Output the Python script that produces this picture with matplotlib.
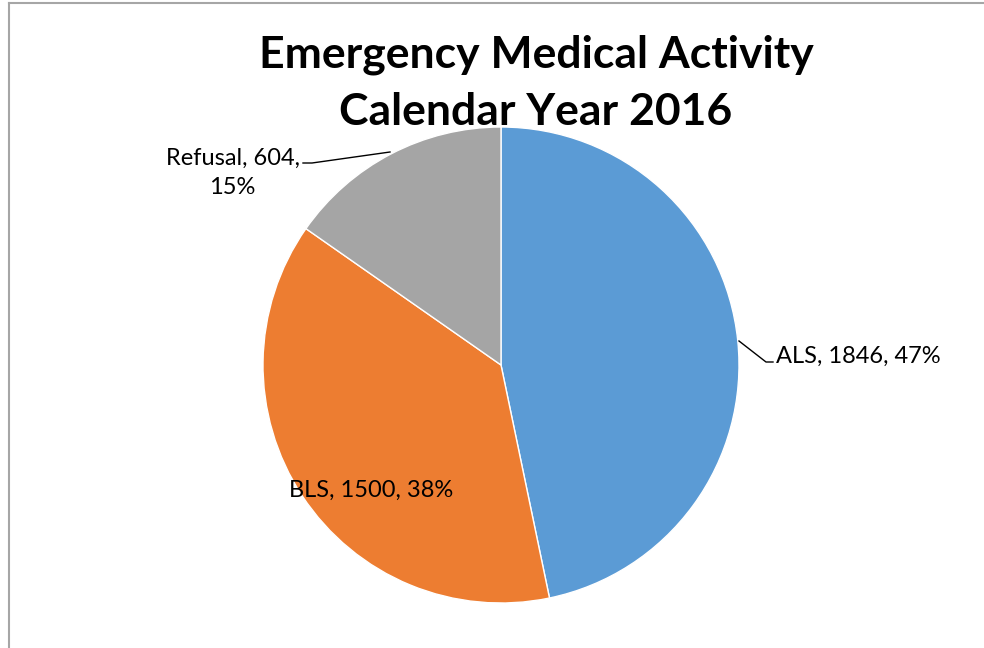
import matplotlib.pyplot as plt
from matplotlib.lines import Line2D

categories = ["ALS", "BLS", "Refusal"]
counts = [1846, 1500, 604]
colors = ["#5B9BD5", "#ED7D31", "#A5A5A5"]
title_lines = ["Emergency Medical Activity", "Calendar Year 2016"]

W, H = 984, 648
fig = plt.figure(figsize=(W / 100, H / 100), dpi=100)
ax = fig.add_axes([0, 0, 1, 1])

# border (left and top only visible in the reference)
fig.add_artist(Line2D([8.5 / W, 8.5 / W], [0, 1 - 2.5 / H], color="#A6A6A6", lw=1.5, transform=fig.transFigure))
fig.add_artist(Line2D([8.5 / W, 1], [1 - 2.5 / H, 1 - 2.5 / H], color="#A6A6A6", lw=1.5, transform=fig.transFigure))

cx, cy, r = 501, H - 365, 238
wedges, _ = ax.pie(counts, colors=colors, startangle=90, counterclock=False,
                   center=(cx, cy), radius=r, frame=True,
                   wedgeprops=dict(edgecolor="white", linewidth=1))
ax.set_xlim(0, W)
ax.set_ylim(0, H)
ax.set_aspect("equal")
ax.axis("off")

total = sum(counts)
pct = [round(c / total * 100) for c in counts]
font = "Lato"
fs = 17

ax.text(776, H - 356, f"{categories[0]}, {counts[0]}, {pct[0]}%", fontsize=fs, family=font,
        ha="left", va="center")
ax.plot([739, 766, 773], [H - 341, H - 362, H - 362], color="black", lw=1)

ax.text(371, H - 490, f"{categories[1]}, {counts[1]}, {pct[1]}%", fontsize=fs, family=font,
        ha="center", va="center")

ax.text(300, H - 158, f"{categories[2]}, {counts[2]},", fontsize=fs, family=font,
        ha="right", va="center")
ax.text(232, H - 188, f"{pct[2]}%", fontsize=fs, family=font, ha="center", va="center")
ax.plot([303, 312, 390], [H - 163, H - 163, H - 152], color="black", lw=1)

ax.text(536, H - 55, title_lines[0], fontsize=32, family=font, fontweight="bold",
        ha="center", va="center")
ax.text(536, H - 112, title_lines[1], fontsize=32, family=font, fontweight="bold",
        ha="center", va="center")

fig.savefig("out.png", dpi=100)
